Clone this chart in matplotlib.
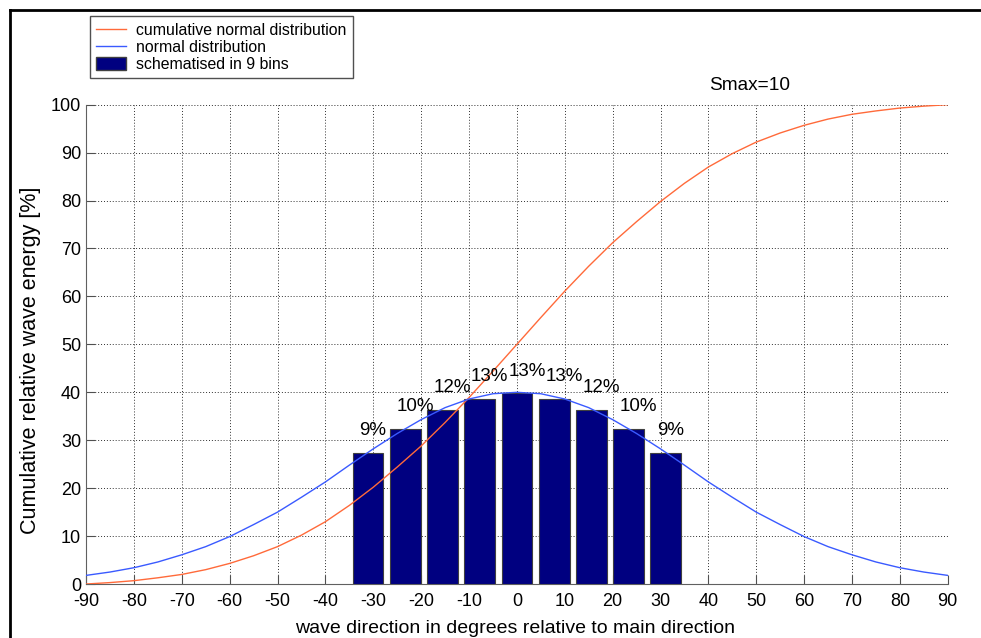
import matplotlib
matplotlib.use('Agg')
import matplotlib.pyplot as plt
from matplotlib.lines import Line2D

plt.rcParams['font.family'] = ['Liberation Sans', 'DejaVu Sans']
plt.rcParams['axes.unicode_minus'] = False

# wave direction (degrees relative to main direction)
direction = list(range(-90, 95, 5))

# cumulative normal distribution [%]
cumulative = [0.0, 0.3, 0.7, 1.3, 2.0, 3.0, 4.3, 5.9, 7.8, 10.2,
              13.0, 16.4, 20.2, 24.4, 28.8, 33.7, 38.9, 44.4, 50.0,
              55.6, 61.1, 66.3, 71.2, 75.6, 79.8, 83.6, 87.0, 89.8,
              92.2, 94.1, 95.7, 97.0, 98.0, 98.7, 99.3, 99.7, 100.0]

# normal distribution (scaled)
normal = [1.8, 2.5, 3.4, 4.6, 6.1, 7.8, 9.9, 12.4, 15.0, 18.1,
          21.3, 24.8, 28.2, 31.4, 34.3, 36.8, 38.6, 39.7, 40.0,
          39.7, 38.6, 36.8, 34.3, 31.4, 28.2, 24.8, 21.3, 18.1,
          15.0, 12.4, 9.9, 7.8, 6.1, 4.6, 3.4, 2.5, 1.8]

# schematised in 9 bins
bin_centres = [-31.1, -23.3, -15.6, -7.8, 0.0, 7.8, 15.6, 23.3, 31.1]
bin_heights = [27.4, 32.4, 36.4, 38.7, 39.9, 38.7, 36.4, 32.4, 27.4]
bin_labels = ['9%', '10%', '12%', '13%', '13%', '13%', '12%', '10%', '9%']

orange = '#ff6a3a'
blue = '#3a5aff'
navy = '#000080'

fig = plt.figure(figsize=(9.81, 6.38), dpi=100)
ax = fig.add_axes([0.0877, 0.0846, 0.8784, 0.7513])

ax.bar(bin_centres, bin_heights, width=6.4, color=navy,
       edgecolor='#404040', linewidth=0.8, zorder=3)
ax.plot(direction, cumulative, color=orange, lw=1.0, zorder=4)
ax.plot(direction, normal, color=blue, lw=1.0, zorder=4)

for xc, h, lab in zip(bin_centres, bin_heights, bin_labels):
    ax.text(xc - 1.8, h + 3.6, lab, fontsize=13.5, ha='left',
            va='baseline', zorder=5)

ax.set_xlim(-90, 90)
ax.set_ylim(0, 100)
ax.set_xticks(range(-90, 91, 10))
ax.set_yticks(range(0, 101, 10))
ax.grid(True, linestyle=(0, (1, 2)), color='#303030', lw=0.7, zorder=0)
ax.set_axisbelow(True)
ax.tick_params(direction='in', length=6.5, color='#505050', labelsize=13)
ax.tick_params(axis='x', pad=6.5)
ax.tick_params(axis='y', pad=3.5)
ax.spines['top'].set_visible(False)
ax.spines['right'].set_visible(False)
ax.spines['left'].set_color('#606060')
ax.spines['bottom'].set_color('#606060')

fig.text(515 / 981, 1 - 633 / 638,
         'wave direction in degrees relative to main direction',
         fontsize=14, ha='center', va='baseline')
fig.text(31 / 981, 1 - 360 / 638, 'Cumulative relative wave energy [%]',
         fontsize=15.5, rotation=90, ha='center', va='center')
fig.text(709 / 981, 1 - 90 / 638, 'Smax=10', fontsize=13.7,
         va='baseline', ha='left')

handles = [Line2D([], [], color=orange, lw=1.0),
           Line2D([], [], color=blue, lw=1.0),
           plt.Rectangle((0, 0), 1, 1, facecolor=navy, edgecolor='#404040')]
fig.legend(handles,
           ['cumulative normal distribution', 'normal distribution',
            'schematised in 9 bins'],
           loc='upper left', bbox_to_anchor=(90 / 981, 1 - 16.5 / 638),
           bbox_transform=fig.transFigure, fontsize=11.4, fancybox=False,
           edgecolor='#505050', framealpha=1, borderaxespad=0,
           handlelength=1.9, handleheight=0.9, handletextpad=0.6,
           labelspacing=0.12, borderpad=0.4)

# black frame along the top and left of the picture
fig.add_artist(Line2D([10 / 981, 1], [1 - 10 / 638, 1 - 10 / 638],
                      transform=fig.transFigure, color='black', lw=2))
fig.add_artist(Line2D([10 / 981, 10 / 981], [0, 1 - 10 / 638],
                      transform=fig.transFigure, color='black', lw=2))

fig.savefig('out.png', dpi=100)
